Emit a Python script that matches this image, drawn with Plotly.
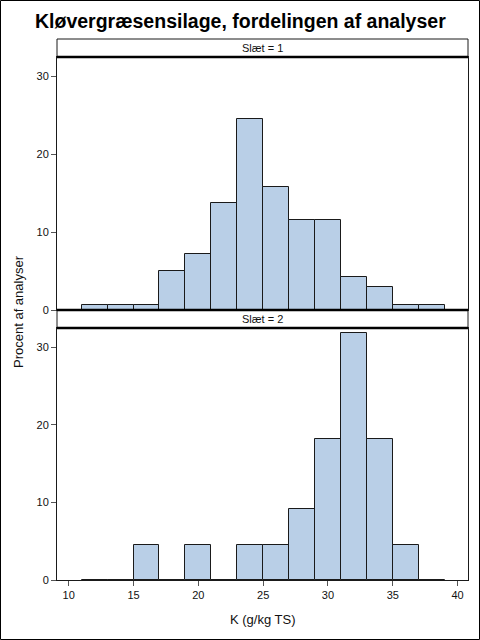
import plotly.graph_objects as go

# --- Data: K (g/kg TS), bin midpoints (width 2) and percent of analyses ---
BIN_MIDPOINTS = [12, 14, 16, 18, 20, 22, 24, 26, 28, 30, 32, 34, 36, 38]
PCT_SLAET_1 = [0.7, 0.7, 0.7, 5.0, 7.2, 13.7, 24.5, 15.8, 11.5, 11.5, 4.3, 2.9, 0.7, 0.7]
PCT_SLAET_2 = [0, 0, 4.5, 0, 4.5, 0, 4.5, 4.5, 9.1, 18.2, 31.8, 18.2, 4.5, 0]
PANEL_LABELS = ["Slæt = 1", "Slæt = 2"]
X_TICKS = [10, 15, 20, 25, 30, 35, 40]
Y_TICKS = [0, 10, 20, 30]

TITLE = "Kløvergræsensilage, fordelingen af analyser"
X_TITLE = "K (g/kg TS)"
Y_TITLE = "Procent af analyser"

FILL = "#B9CFE7"
EDGE = "#1a1a1a"
FONT = "Liberation Sans, Arial, sans-serif"

# pixel layout (480x640)
W, H = 480, 640
L, R, T, B = 57, 12, 39, 60
plot_h = H - T - B
plot_w = W - L - R


def py(px):
    # pixel y (from top) -> paper y
    return (H - B - px) / plot_h


def px_x(px):
    return (px - L) / plot_w


panel2 = [0, py(328)]
strip2 = [py(328), py(310)]
panel1 = [py(310), py(57)]
strip1 = [py(57), 1]

fig = go.Figure()
for vals, xa, ya in [(PCT_SLAET_1, "x", "y"), (PCT_SLAET_2, "x2", "y2")]:
    fig.add_trace(go.Bar(
        x=BIN_MIDPOINTS, y=vals, width=2,
        marker=dict(color=FILL, line=dict(color=EDGE, width=1)),
        xaxis=xa, yaxis=ya, showlegend=False,
    ))

axis_common = dict(
    range=[9.1, 40.8], showline=True, mirror=True, linecolor=EDGE, linewidth=1,
    showgrid=False, zeroline=False, automargin=False,
)
yaxis_common = dict(
    range=[0, 32.5], tickvals=Y_TICKS, ticks="outside", ticklen=5, tickcolor="#555",
    showline=True, mirror=True, linecolor=EDGE, linewidth=1, automargin=False,
    showgrid=False, zeroline=False, tickfont=dict(size=11, color="#111", family=FONT),
)

fig.update_layout(
    template="none",
    width=W, height=H,
    margin=dict(l=L, r=R, t=T, b=B, autoexpand=False),
    paper_bgcolor="white", plot_bgcolor="white",
    font=dict(family=FONT, color="#111"),
    bargap=0,
    xaxis=dict(domain=[0, 1], anchor="y", showticklabels=False, ticks="", **axis_common),
    yaxis=dict(domain=panel1, anchor="x", **yaxis_common),
    xaxis2=dict(domain=[0, 1], anchor="y2", tickvals=X_TICKS, ticks="outside", ticklen=5,
                tickcolor="#555", tickfont=dict(size=11, color="#111", family=FONT),
                **axis_common),
    yaxis2=dict(domain=panel2, anchor="x2", **yaxis_common),
)

shapes = []
annotations = []
for label, dom in [(PANEL_LABELS[0], strip1), (PANEL_LABELS[1], strip2)]:
    shapes.append(dict(type="rect", xref="paper", yref="paper", x0=0, x1=1,
                       y0=dom[0], y1=dom[1], line=dict(color=EDGE, width=1),
                       fillcolor="white", layer="below"))
    # thick separator line under the strip
    shapes.append(dict(type="line", xref="paper", yref="paper", x0=0, x1=1,
                       y0=dom[0], y1=dom[0], line=dict(color="black", width=2.5)))
    annotations.append(dict(text=label, xref="paper", yref="paper", x=0.5,
                            y=(dom[0] + dom[1]) / 2, xanchor="center", yanchor="middle",
                            showarrow=False, font=dict(size=11, family=FONT, color="#111")))
shapes.append(dict(type="line", xref="paper", yref="paper", x0=0, x1=1,
                   y0=strip2[1], y1=strip2[1], line=dict(color="black", width=2.5)))

# outer frame
shapes.append(dict(type="rect", xref="paper", yref="paper",
                   x0=px_x(0.5), x1=px_x(W - 0.5), y0=py(H - 0.5), y1=py(0.5),
                   line=dict(color="black", width=1)))

annotations.append(dict(text=f"<b>{TITLE}</b>", xref="paper", yref="paper",
                        x=px_x(W / 2), y=py(21), xanchor="center", yanchor="middle",
                        showarrow=False, font=dict(size=19.5, family=FONT, color="black")))
annotations.append(dict(text=Y_TITLE, xref="paper", yref="paper",
                        x=px_x(18), y=py(312), xanchor="center", yanchor="middle",
                        textangle=-90, showarrow=False,
                        font=dict(size=13, family=FONT, color="#111")))
annotations.append(dict(text=X_TITLE, xref="paper", yref="paper",
                        x=0.5, y=py(619), xanchor="center", yanchor="middle",
                        showarrow=False, font=dict(size=13, family=FONT, color="#111")))

fig.update_layout(shapes=shapes, annotations=annotations)

# page body has a default 8px margin; drop it so the figure fills the window
fig.write_html("out.html", config={"displayModeBar": False},
               post_script="document.body.style.margin='0';")
